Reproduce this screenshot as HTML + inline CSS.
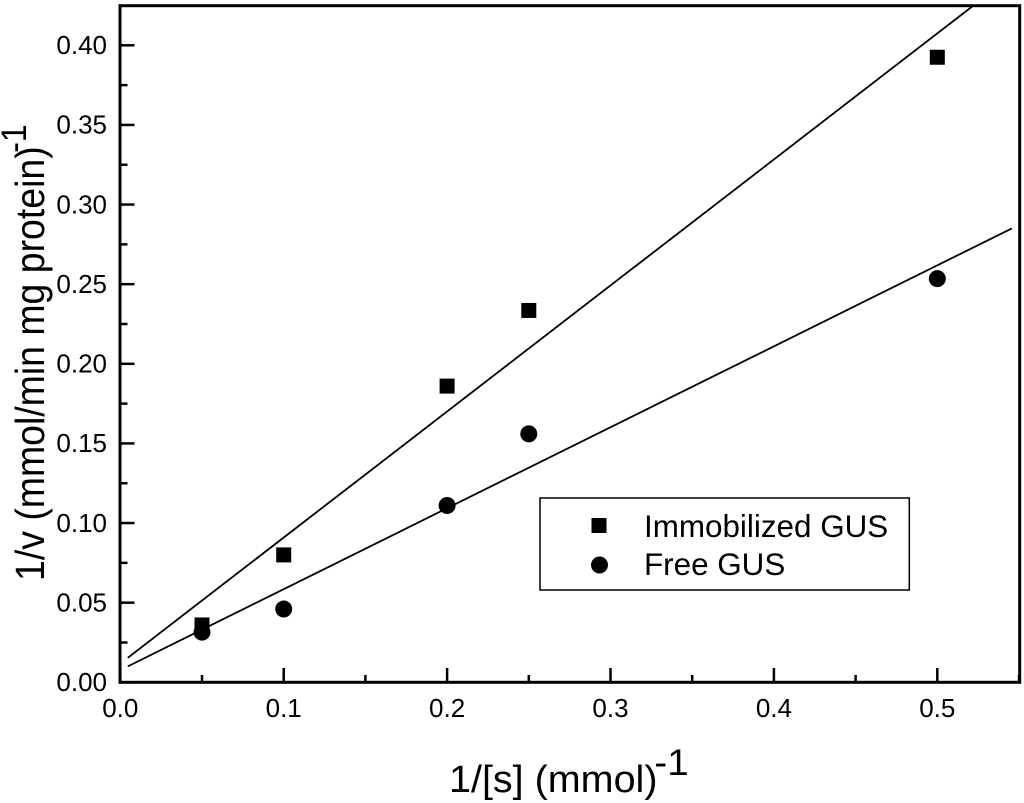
<!DOCTYPE html>
<html>
<head>
<meta charset="utf-8">
<title>Lineweaver-Burk plot</title>
<style>
html,body{margin:0;padding:0;background:#fff;}
svg{display:block;}
text{font-family:"Liberation Sans",Arial,sans-serif;fill:#000;}
</style>
</head>
<body>
<svg id="chart" xmlns="http://www.w3.org/2000/svg" width="1024" height="803" viewBox="0 0 1024 803">
  <rect x="0" y="0" width="1024" height="803" fill="#fff"/>
  <defs><clipPath id="plot-clip"><rect x="120" y="6" width="900" height="676"/></clipPath></defs>
  <g id="fits" clip-path="url(#plot-clip)"></g>
  <g id="points"></g>
  <rect x="120" y="5.7" width="899.7" height="676.6" fill="none" stroke="#000" stroke-width="3"/>
  <g id="ticks"></g>
  <g id="labels"></g>
  <text transform="translate(449,792) scale(1.04,1)" font-size="38">1/[s] (mmol)<tspan font-size="37" dx="-3" dy="-17">-1</tspan></text>
  <text transform="translate(44,581) rotate(-90) scale(0.913,1)" font-size="41">1/v (mmol/min mg protein)<tspan font-size="35" dx="-7" dy="-18">-1</tspan></text>
  <g>
    <rect x="540" y="498" width="369.3" height="92" fill="#fff" stroke="#000" stroke-width="1.5"/>
    <rect x="591.5" y="518" width="15" height="15" fill="#000"/>
    <circle cx="599.5" cy="565" r="8.5" fill="#000"/>
    <text x="644" y="537" font-size="31.4">Immobilized GUS</text>
    <text x="644" y="575" font-size="31.4">Free GUS</text>
  </g>
</svg>
<script>
const substrateValues = [0.05, 0.1, 0.2, 0.25, 0.5];
const immobilizedValues = [0.036, 0.080, 0.186, 0.2335, 0.3925];
const freeValues = [0.0315, 0.046, 0.111, 0.156, 0.2535];
const fitXValues = [0.0046, 0.5215];
const immobilizedFitValues = [0.0154, 0.4245];
const freeFitXValues = [0.0046, 0.5456];
const freeFitValues = [0.0100, 0.285];
const xMajorTicks = [0.0, 0.1, 0.2, 0.3, 0.4, 0.5];
const xMinorTicks = [0.05, 0.15, 0.25, 0.35, 0.45, 0.55];
const yMajorTicks = [0.00, 0.05, 0.10, 0.15, 0.20, 0.25, 0.30, 0.35, 0.40];
const yMinorTicks = [0.025, 0.075, 0.125, 0.175, 0.225, 0.275, 0.325, 0.375];
const xTickLabels = ['0.0', '0.1', '0.2', '0.3', '0.4', '0.5'];
const yTickLabels = ['0.00', '0.05', '0.10', '0.15', '0.20', '0.25', '0.30', '0.35', '0.40'];

const NS = 'http://www.w3.org/2000/svg';
function xScale(v) { return 120.3 + v * 1634; }
function yScale(v) { return 682.3 - v * 1592.5; }
function make(tag, attrs, parent) {
  const el = document.createElementNS(NS, tag);
  Object.keys(attrs).forEach(function (k) { el.setAttribute(k, attrs[k]); });
  parent.appendChild(el);
  return el;
}
const fits = document.getElementById('fits');
const points = document.getElementById('points');
const ticks = document.getElementById('ticks');
const labels = document.getElementById('labels');

const fitA = make('line', { x1: xScale(fitXValues[0]), y1: yScale(immobilizedFitValues[0]), x2: xScale(fitXValues[1]), y2: yScale(immobilizedFitValues[1]), stroke: '#000', 'stroke-width': 1.8 }, fits);


const fitB = make('line', { x1: xScale(freeFitXValues[0]), y1: yScale(freeFitValues[0]), x2: xScale(freeFitXValues[1]), y2: yScale(freeFitValues[1]), stroke: '#000', 'stroke-width': 1.8 }, fits);



substrateValues.forEach(function (s, i) {
  const sq = make('rect', { x: xScale(s) - 7.5, y: yScale(immobilizedValues[i]) - 7.5, width: 15, height: 15, fill: '#000' }, points);
  
  
});
substrateValues.forEach(function (s, i) {
  const c = make('circle', { cx: xScale(s), cy: yScale(freeValues[i]), r: 8.5, fill: '#000' }, points);
  
  
});

xMajorTicks.forEach(function (v) {
  const t = make('line', { x1: xScale(v), x2: xScale(v), y1: 682.3, y2: 668, stroke: '#000', 'stroke-width': 2.5 }, ticks);
  
  
});
xMinorTicks.forEach(function (v) {
  const t = make('line', { x1: xScale(v), x2: xScale(v), y1: 682.3, y2: 675, stroke: '#000', 'stroke-width': 2.5 }, ticks);
  
  
});
yMajorTicks.forEach(function (v) {
  const t = make('line', { x1: 120, x2: 134.5, y1: yScale(v), y2: yScale(v), stroke: '#000', 'stroke-width': 2.5 }, ticks);
  
  
});
yMinorTicks.forEach(function (v) {
  const t = make('line', { x1: 120, x2: 127.5, y1: yScale(v), y2: yScale(v), stroke: '#000', 'stroke-width': 2.5 }, ticks);
  
  
});
xTickLabels.forEach(function (txt, i) {
  const t = make('text', { x: xScale(xMajorTicks[i]), y: 717, 'text-anchor': 'middle', 'font-size': 26 }, labels);
  t.textContent = txt;
  
  
});
yTickLabels.forEach(function (txt, i) {
  const t = make('text', { x: 107, y: yScale(yMajorTicks[i]) + 8.7, 'text-anchor': 'end', 'font-size': 26 }, labels);
  t.textContent = txt;
  
  
});
</script>
</body>
</html>
